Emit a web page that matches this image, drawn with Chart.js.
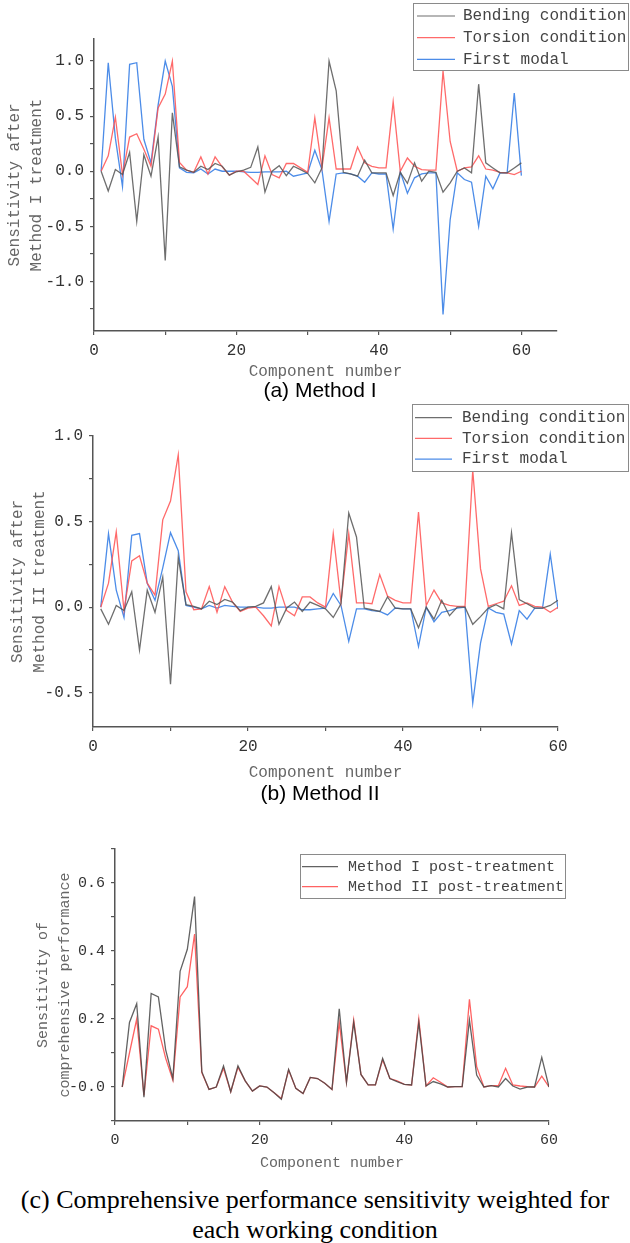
<!DOCTYPE html>
<html>
<head>
<meta charset="utf-8">
<script src="https://cdn.jsdelivr.net/npm/chart.js@4.4.0/dist/chart.umd.min.js"></script>
<style>
  body { margin: 0; background: #fff; }
  #page { position: relative; width: 630px; height: 1243px; overflow: hidden; background: #fff; }
  canvas { position: absolute; left: 0; }
  .caption { position: absolute; left: 5px; width: 630px; text-align: center; color: #000; white-space: nowrap; }
  .sans { font-family: "Liberation Sans", Arial, sans-serif; font-size: 21px; line-height: 24px; }
  .serif { font-family: "Liberation Serif", "Times New Roman", serif; font-size: 26px; line-height: 30px; left: 0; }
</style>
</head>
<body>
<div id="page">
  <canvas id="chartA" width="630" height="385" style="top:0"></canvas>
  <div class="caption sans" style="top:378px">(a) Method I</div>
  <canvas id="chartB" width="630" height="390" style="top:395px"></canvas>
  <div class="caption sans" style="top:781px">(b) Method II</div>
  <canvas id="chartC" width="630" height="345" style="top:830px"></canvas>
  <div class="caption serif" style="top:1185px">(c) Comprehensive performance sensitivity weighted for<br>each working condition</div>
</div>
<script>
// Component numbers 1..60
const components = Array.from({ length: 60 }, (_, i) => i + 1);

// (a) sensitivity after Method I treatment
const bendingI = [
  0, -0.18, 0.015, -0.03, 0.17, -0.455, 0.15, -0.045, 0.31, -0.81,
  0.53, 0.04, 0.01, -0.01, 0.045, 0.015, 0.07, 0.045, -0.035, -0.005,
  0.01, 0.035, 0.22, -0.19, 0, 0.05, -0.04, 0.045, 0.015, -0.02,
  -0.105, 0.03, 1.0, 0.73, -0.01, -0.025, -0.045, 0.10, -0.015, -0.015,
  -0.015, -0.22, -0.01, -0.11, 0.076, -0.09, 0, -0.01, -0.19, -0.105,
  0, 0.03, -0.015, 0.79, 0.076, 0.03, -0.015, -0.015, 0.03, 0.076
];
const torsionI = [
  0, 0.14, 0.49, -0.03, 0.31, 0.34, 0.2, 0.045, 0.575, 0.70,
  1.0, 0.08, 0.01, -0.01, 0.13, -0.025, 0.13, 0.04, -0.035, 0,
  0, -0.06, -0.12, 0.14, -0.03, -0.06, 0.07, 0.07, 0.03, -0.01,
  0.485, 0.03, 0.485, 0.02, 0.02, 0.02, 0.22, 0.076, 0.045, 0.03,
  0.03, 0.63, 0, 0.12, 0.045, 0.015, 0.01, 0.01, 0.91, 0.27,
  0, 0.03, 0.04, 0.14, 0.02, 0.01, -0.01, -0.015, -0.03, 0
];
const modalI = [
  0, 0.985, 0.3, -0.14, 0.97, 0.985, 0.29, 0.076, 0.6, 1.0,
  0.77, 0.03, -0.01, -0.015, 0.02, -0.025, 0.02, 0, 0, 0,
  -0.005, -0.01, -0.01, -0.005, -0.005, -0.005, 0, -0.045, -0.03, -0.015,
  0.19, 0.015, -0.455, -0.025, -0.015, -0.025, -0.045, -0.1, -0.015, -0.025,
  -0.025, -0.525, -0.005, -0.2, -0.06, -0.025, -0.015, -0.015, -1.30, -0.44,
  -0.015, -0.075, -0.1, -0.5, -0.045, -0.16, -0.015, -0.015, 0.71, -0.04
];

// (b) sensitivity after Method II treatment
const bendingII = [
  -0.01, -0.1, 0.01, -0.02, 0.09, -0.25, 0.1, -0.03, 0.175, -0.45,
  0.29, 0.015, 0.005, -0.01, 0.035, 0.015, 0.045, 0.03, -0.02, 0,
  0.005, 0.025, 0.12, -0.1, -0.005, 0.03, -0.025, 0.03, 0.01, -0.01,
  -0.06, 0.02, 0.55, 0.41, -0.005, -0.015, -0.025, 0.06, -0.005, -0.01,
  -0.01, -0.12, 0, -0.07, 0.04, -0.05, 0, 0, -0.1, -0.055,
  -0.005, 0.015, -0.01, 0.435, 0.045, 0.02, -0.005, -0.005, 0.01, 0.04
];
const torsionII = [
  0, 0.14, 0.44, -0.02, 0.27, 0.30, 0.14, 0.07, 0.51, 0.62,
  0.89, 0.09, -0.015, -0.01, 0.12, -0.03, 0.12, 0.03, -0.025, -0.005,
  0, -0.05, -0.11, 0.12, -0.02, -0.05, 0.06, 0.06, 0.025, 0,
  0.43, 0.03, 0.43, 0.025, 0.025, 0.02, 0.19, 0.065, 0.04, 0.025,
  0.025, 0.555, 0.01, 0.10, 0.025, 0.01, 0.005, 0.005, 0.8, 0.225,
  0.005, 0.02, 0.035, 0.125, 0.01, 0.025, 0.005, 0, -0.03, 0
];
const modalII = [
  0, 0.43, 0.1, -0.06, 0.42, 0.43, 0.14, 0.04, 0.23, 0.435,
  0.33, 0.01, 0, -0.01, 0.01, -0.005, 0.01, 0.005, 0, 0,
  0, -0.005, -0.005, 0, 0, 0, -0.015, -0.015, -0.01, -0.005,
  0.08, 0.01, -0.2, -0.01, -0.01, -0.02, -0.025, -0.045, -0.005, -0.01,
  -0.01, -0.23, 0, -0.085, -0.03, -0.02, -0.005, 0, -0.56, -0.21,
  -0.005, -0.03, -0.04, -0.215, -0.02, -0.07, -0.005, -0.005, 0.31, -0.01
];

// (c) weighted comprehensive performance sensitivity
const comprehensiveI = [
  0, 0.19, 0.245, -0.03, 0.275, 0.265, 0.11, 0.025, 0.34, 0.405,
  0.56, 0.045, -0.007, 0, 0.062, -0.014, 0.062, 0.018, -0.012, 0.003,
  0, -0.017, -0.036, 0.052, -0.004, -0.019, 0.028, 0.025, 0.011, -0.007,
  0.23, 0.014, 0.19, 0.037, 0.006, 0.006, 0.084, 0.025, 0.016, 0.008,
  0.006, 0.19, 0.003, 0.016, 0.009, 0, 0.001, 0.001, 0.197, 0.035,
  0, 0.004, 0, 0.025, 0.003, -0.006, 0, 0, 0.087, 0
];
const comprehensiveII = [
  0, 0.1, 0.2, -0.025, 0.18, 0.17, 0.085, 0.02, 0.265, 0.295,
  0.45, 0.042, -0.007, 0, 0.055, -0.014, 0.058, 0.018, -0.012, 0.003,
  0, -0.017, -0.034, 0.05, -0.004, -0.019, 0.028, 0.025, 0.011, -0.007,
  0.19, 0.014, 0.197, 0.037, 0.006, 0.006, 0.08, 0.025, 0.018, 0.008,
  0.006, 0.2, 0.003, 0.027, 0.014, 0, 0.001, 0.001, 0.258, 0.06,
  0, 0.004, 0.004, 0.055, 0.006, 0.003, 0.001, 0, 0.032, 0
];

const MONO = '"Liberation Mono", "DejaVu Sans Mono", monospace';
const GRAY = 'rgba(85, 85, 85, 0.85)';
const RED = 'rgba(255, 80, 80, 0.85)';
const BLUE = 'rgba(45, 120, 228, 0.85)';

// Legend drawn as a framed box with line samples
const boxLegend = {
    id: 'boxLegend',
    afterDraw(chart, args, opts) {
        const ctx = chart.ctx;
        ctx.save();
        ctx.fillStyle = '#fff';
        ctx.fillRect(opts.x, opts.y, opts.w, opts.h);
        ctx.strokeStyle = '#8a8a8a';
        ctx.lineWidth = 1;
        ctx.strokeRect(opts.x + 0.5, opts.y + 0.5, opts.w, opts.h);
        ctx.font = opts.size + 'px ' + MONO;
        ctx.textBaseline = 'middle';
        chart.data.datasets.forEach((ds, i) => {
            const y = opts.firstRow + i * opts.rowGap;
            ctx.strokeStyle = ds.borderColor;
            ctx.lineWidth = 1.2;
            ctx.beginPath();
            ctx.moveTo(opts.lineX1, y);
            ctx.lineTo(opts.lineX2, y);
            ctx.stroke();
            ctx.fillStyle = '#444';
            ctx.fillText(ds.label, opts.textX, y);
        });
        ctx.restore();
    }
};

function series(label, values, color) {
    return {
        label: label,
        data: values.map((v, i) => ({ x: components[i], y: v })),
        borderColor: color,
        borderWidth: 1.3,
        pointRadius: 0,
        tension: 0,
        fill: false
    };
}

// Shared axis setup: outward ticks, minor ticks without labels
function buildScales(c) {
    const isMajor = (v, step) => Math.abs(v / step - Math.round(v / step)) < 1e-6;
    return {
        x: {
            type: 'linear',
            min: 0,
            max: c.xMax,
            border: { color: '#555', width: 1.5 },
            grid: { drawOnChartArea: false, tickLength: 4, color: '#555', lineWidth: 1.2 },
            ticks: {
                stepSize: 10,
                includeBounds: false,
                autoSkip: false,
                maxRotation: 0,
                padding: 6,
                color: '#333',
                font: { family: MONO, size: c.size },
                callback: v => isMajor(v, 20) ? String(v) : ''
            },
            title: {
                display: true,
                text: 'Component number',
                color: '#666',
                font: { family: MONO, size: c.size, lineHeight: 1.25 },
                padding: { top: 0, bottom: c.xTitlePad }
            },
            afterFit: s => { s.height = c.xHeight; }
        },
        y: {
            min: c.yMin,
            max: c.yMax,
            border: { color: '#555', width: 1.5 },
            grid: { drawOnChartArea: false, tickLength: 4, color: '#555', lineWidth: 1.2 },
            ticks: {
                stepSize: c.yStep,
                includeBounds: false,
                autoSkip: false,
                padding: 6,
                color: '#333',
                font: { family: MONO, size: c.size },
                callback: v => isMajor(v, c.yMajor) ? v.toFixed(1) : ''
            },
            title: {
                display: true,
                text: c.yTitle,
                color: '#666',
                font: { family: MONO, size: c.size, lineHeight: 22 / c.size },
                padding: { top: c.yTitlePad, bottom: 0 }
            },
            afterFit: s => { s.width = c.yWidth; }
        }
    };
}

function makeChart(id, datasets, layout, axes, legend) {
    return new Chart(document.getElementById(id), {
        type: 'line',
        data: { datasets: datasets },
        options: {
            responsive: false,
            animation: false,
            devicePixelRatio: 1,
            layout: { padding: layout },
            plugins: {
                legend: { display: false },
                tooltip: { enabled: false },
                boxLegend: legend
            },
            scales: buildScales(axes)
        },
        plugins: [boxLegend]
    });
}

// (a) Method I
makeChart('chartA', [
    series('Bending condition', bendingI, GRAY),
    series('Torsion condition', torsionI, RED),
    series('First modal', modalI, BLUE)
], { top: 39, right: 73, left: 0, bottom: 0 }, {
    xMax: 65, yMin: -1.45, yMax: 1.2, yStep: 0.25, yMajor: 0.5, size: 16,
    yTitle: ['Sensitivity after', 'Method I treatment'],
    yWidth: 94, xHeight: 54, xTitlePad: 3, yTitlePad: 4
}, { x: 413, y: 3, w: 215, h: 67, firstRow: 16, rowGap: 21.7, lineX1: 417, lineX2: 455, textX: 463, size: 16 });

// (b) Method II
makeChart('chartB', [
    series('Bending condition', bendingII, GRAY),
    series('Torsion condition', torsionII, RED),
    series('First modal', modalII, BLUE)
], { top: 41, right: 72, left: 0, bottom: 0 }, {
    xMax: 60, yMin: -0.7, yMax: 1.0, yStep: 0.25, yMajor: 0.5, size: 16,
    yTitle: ['Sensitivity after', 'Method II treatment'],
    yWidth: 93, xHeight: 58, xTitlePad: 2, yTitlePad: 7
}, { x: 412, y: 9, w: 216, h: 67, firstRow: 22.7, rowGap: 20.7, lineX1: 415, lineX2: 452, textX: 462, size: 16 });

// (c) Weighted comprehensive sensitivity
makeChart('chartC', [
    series('Method I post-treatment', comprehensiveI, 'rgba(70, 70, 70, 0.85)'),
    series('Method II post-treatment', comprehensiveII, 'rgba(255, 70, 70, 0.85)')
], { top: 19, right: 81, left: 0, bottom: 0 }, {
    xMax: 60, yMin: -0.1, yMax: 0.7, yStep: 0.1, yMajor: 0.2, size: 15,
    yTitle: ['Sensitivity of', 'comprehensive performance'],
    yWidth: 115, xHeight: 54, xTitlePad: 3, yTitlePad: 32
}, { x: 300, y: 24, w: 265, h: 44, firstRow: 36.7, rowGap: 20, lineX1: 302, lineX2: 338, textX: 348, size: 15 });
</script>
</body>
</html>
